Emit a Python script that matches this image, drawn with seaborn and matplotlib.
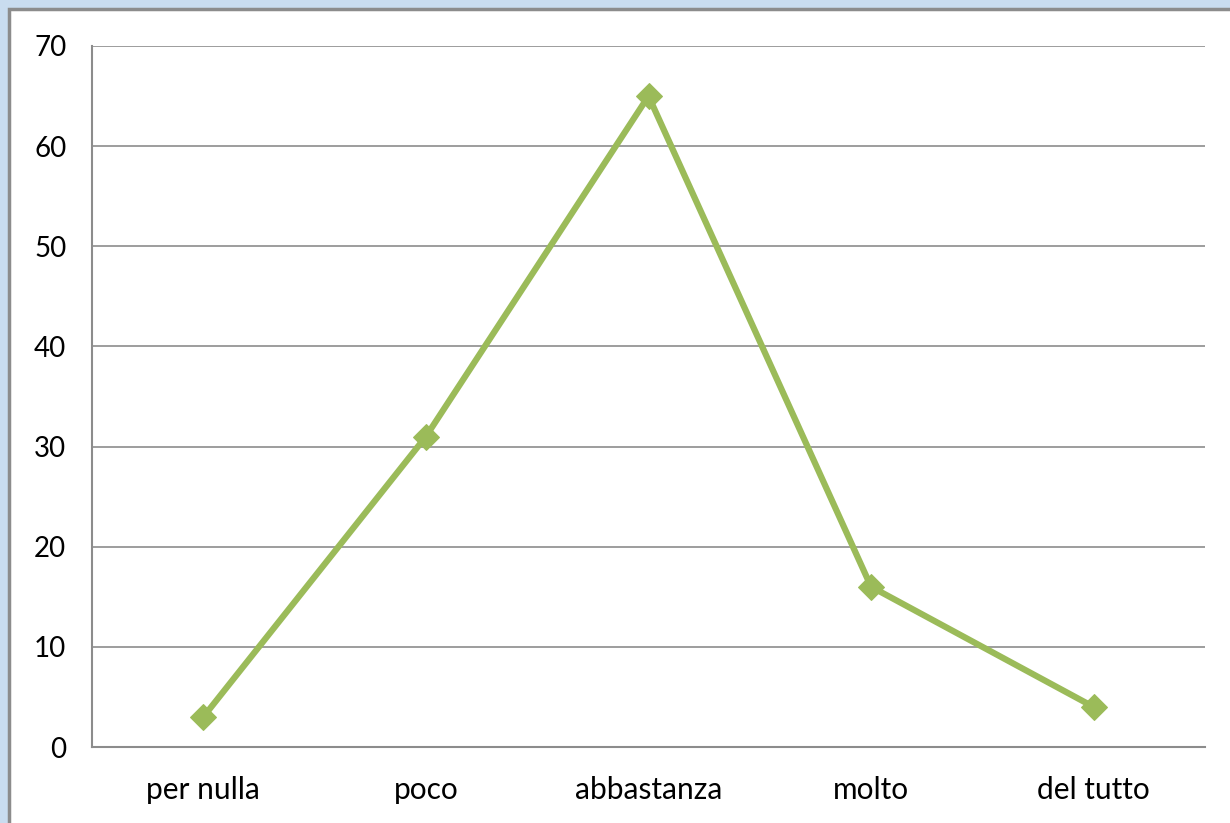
import matplotlib

matplotlib.use("Agg")

import matplotlib.pyplot as plt
import pandas as pd
import seaborn as sns
from matplotlib.patches import Rectangle

categories = ["per nulla", "poco", "abbastanza", "molto", "del tutto"]
values = [3, 31, 65, 16, 4]

df = pd.DataFrame({"categoria": categories, "valore": values})

sns.set_theme(style="white")
plt.rcParams["font.family"] = ["Lato", "DejaVu Sans"]

fig = plt.figure(figsize=(12.3, 8.23), dpi=100)
fig.patch.set_facecolor("#c9dcef")
# white chart area with grey frame, like the spreadsheet screenshot
fig.patches.append(
    Rectangle((9 / 1230, -0.02), 1.02, 1.02 - 9 / 823, transform=fig.transFigure,
              facecolor="white", edgecolor="#8c8c8c", linewidth=2.5, zorder=-1)
)

ax = fig.add_axes([92 / 1230, 1 - 747 / 823, (1205 - 92) / 1230, (747 - 46) / 823])
ax.set_facecolor("white")

sns.lineplot(data=df, x="categoria", y="valore", ax=ax, sort=False,
             color="#9bbb59", linewidth=4.5, marker="D", markersize=13,
             markeredgecolor="#9bbb59")

ax.set_xlim(-0.5, len(categories) - 0.5)
ax.set_ylim(0, 70)
ax.set_yticks(range(0, 71, 10))
ax.yaxis.grid(True, color="#8c8c8c", linewidth=1.2)
ax.set_axisbelow(True)
for side in ["top", "right"]:
    ax.spines[side].set_visible(False)
for side in ["left", "bottom"]:
    ax.spines[side].set_color("#8c8c8c")
    ax.spines[side].set_linewidth(1.5)
ax.tick_params(axis="y", length=0, pad=18.5, labelsize=20, colors="black")
ax.tick_params(axis="x", length=0, pad=21, labelsize=21.5, colors="black")
ax.set_xlabel("")
ax.set_ylabel("")

fig.savefig("out.png", dpi=100)
